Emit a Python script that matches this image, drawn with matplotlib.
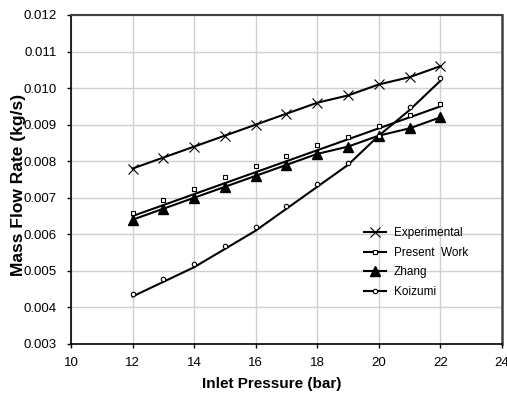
import numpy as np
import matplotlib.pyplot as plt

pressure = [12, 13, 14, 15, 16, 17, 18, 19, 20, 21, 22]
experimental = [0.0078, 0.0081, 0.0084, 0.0087, 0.0090, 0.0093, 0.0096, 0.0098, 0.0101, 0.0103, 0.0106]
present_pts = [0.00659, 0.00695, 0.00725, 0.00757, 0.00787, 0.00815, 0.00845, 0.00866, 0.00896, 0.00927, 0.00957]
present_line = [0.0065, 0.0068, 0.0071, 0.0074, 0.0077, 0.0080, 0.0083, 0.0086, 0.0089, 0.0092, 0.0095]
zhang = [0.0064, 0.0067, 0.0070, 0.0073, 0.0076, 0.0079, 0.0082, 0.0084, 0.0087, 0.0089, 0.0092]
koizumi_pts = [0.00437, 0.00478, 0.0052, 0.00568, 0.0062, 0.00678, 0.00737, 0.00795, 0.0087, 0.00948, 0.01028]
koizumi_line = [0.0043, 0.0047, 0.0051, 0.0056, 0.0061, 0.0067, 0.0073, 0.0079, 0.0087, 0.0094, 0.0102]

narrow = ['Liberation Sans Narrow', 'Liberation Sans', 'DejaVu Sans']

fig = plt.figure(figsize=(5.07, 4.0), dpi=100)
ax = fig.add_axes([0.140, 0.14, 0.850, 0.8225])

ax.plot(pressure, experimental, color='black', lw=1.5, marker='x', ms=7, mew=0.8)
ax.plot(pressure, present_line, color='black', lw=1.5)
ax.plot(pressure, present_pts, ls='none', marker='s', ms=3.5, mfc='white', mec='black', mew=0.8)
ax.plot(pressure, zhang, color='black', lw=1.5, marker='^', ms=7)
ax.plot(pressure, koizumi_line, color='black', lw=1.5)
ax.plot(pressure, koizumi_pts, ls='none', marker='o', ms=3.2, mfc='white', mec='black', mew=0.8)

# legend proxies
h_exp, = ax.plot([], [], color='black', lw=1.5, marker='x', ms=7, mew=0.8)
h_pre, = ax.plot([], [], color='black', lw=1.5, marker='s', ms=3.5, mfc='white', mec='black', mew=0.8)
h_zh, = ax.plot([], [], color='black', lw=1.5, marker='^', ms=7)
h_koi, = ax.plot([], [], color='black', lw=1.5, marker='o', ms=3.2, mfc='white', mec='black', mew=0.8)
ax.legend([h_exp, h_pre, h_zh, h_koi], ['Experimental', 'Present  Work', 'Zhang', 'Koizumi'],
          loc='upper left', bbox_to_anchor=(0.67, 0.37), frameon=False,
          prop={'family': narrow, 'size': 8.5}, handlelength=1.8, labelspacing=0.65,
          borderaxespad=0, handletextpad=0.7)

ax.set_xlim(10, 24)
ax.set_ylim(0.003, 0.012)
ax.set_xticks(np.arange(10, 25, 2))
ax.set_yticks(np.arange(0.003, 0.0121, 0.001))
ax.set_yticklabels(['%.3f' % v for v in np.arange(0.003, 0.0121, 0.001)])
ax.grid(True, color='#d0d0d0', lw=1)
ax.set_axisbelow(True)
for lab in ax.get_xticklabels() + ax.get_yticklabels():
    lab.set_family(narrow)
    lab.set_fontsize(9.5)
ax.tick_params(direction='out', length=3, width=1, colors='black')
ax.tick_params(axis='x', pad=6)
ax.tick_params(axis='y', pad=7)
ax.spines['left'].set_linewidth(1.2)
ax.spines['bottom'].set_linewidth(1.2)
ax.spines['top'].set_color('#404040')
ax.spines['right'].set_color('#404040')
ax.spines['top'].set_linewidth(1.5)
ax.spines['right'].set_linewidth(1.8)

ax.set_xlabel('Inlet Pressure (bar)', fontsize=11, fontweight='bold', family=['Liberation Sans', 'DejaVu Sans'])
ax.set_ylabel('Mass Flow Rate (kg/s)', fontsize=12.5, fontweight='bold', family=['Liberation Sans', 'DejaVu Sans'])
ax.xaxis.set_label_coords(0.465, -0.10)
ax.yaxis.set_label_coords(-0.104, 0.483)

fig.savefig('out.png', dpi=100)
